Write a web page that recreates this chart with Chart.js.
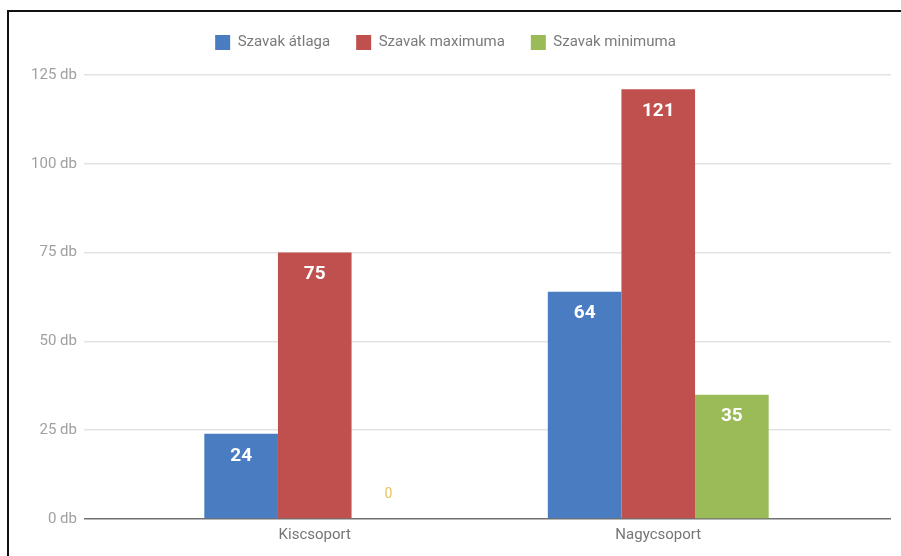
<!DOCTYPE html>
<html>
<head>
<meta charset="utf-8">
<script src="https://cdn.jsdelivr.net/npm/chart.js@4.4.1/dist/chart.umd.min.js"></script>
<style>
  body { margin: 0; background: #fff; }
  #wrap { position: relative; width: 901px; height: 556px; overflow: hidden; background: #fff; }
  #frame { position: absolute; left: 7px; top: 10px; width: 1000px; height: 1000px; border-top: 2px solid #111; border-left: 2px solid #111; }
  canvas { position: absolute; left: 0; top: 0; }
</style>
</head>
<body>
<div id="wrap">
  <div id="frame"></div>
  <canvas id="chart" width="901" height="556"></canvas>
</div>
<script>
const groups = ['Kiscsoport', 'Nagycsoport'];
const seriesNames = ['Szavak átlaga', 'Szavak maximuma', 'Szavak minimuma'];
const atlag = [24, 64];
const maximum = [75, 121];
const minimum = [0, 35];
const yTicks = [0, 25, 50, 75, 100, 125];
const colors = ['#4a7cc1', '#c0504d', '#9bbb59'];

const font = 'Roboto';

// value labels: white inside the top of the bar, yellow above the axis when the value is 0
const barLabels = {
  id: 'barLabels',
  afterDatasetsDraw(chart) {
    const ctx = chart.ctx;
    ctx.save();
    ctx.textAlign = 'center';
    ctx.textBaseline = 'middle';
    chart.data.datasets.forEach((ds, i) => {
      chart.getDatasetMeta(i).data.forEach((bar, j) => {
        const v = ds.data[j];
        if (v === 0) {
          ctx.fillStyle = '#ebc35a';
          ctx.font = '14px ' + font;
          ctx.fillText(String(v), bar.x, bar.y - 25);
        } else {
          ctx.fillStyle = '#ffffff';
          ctx.font = 'bold 19px ' + font;
          ctx.fillText(String(v), bar.x, bar.y + 22);
        }
      });
    });
    ctx.restore();
  }
};

// a bit more room under the legend
const legendGap = {
  id: 'legendGap',
  beforeInit(chart) {
    const fit = chart.legend.fit;
    chart.legend.fit = function () {
      fit.bind(chart.legend)();
      this.height += 15;
    };
  }
};

const gridColor = (c) => (c.tick && c.tick.value === 0 ? '#707070' : '#e3e3e3');

new Chart(document.getElementById('chart'), {
  type: 'bar',
  data: {
    labels: groups,
    datasets: [
      { label: seriesNames[0], data: atlag, backgroundColor: colors[0] },
      { label: seriesNames[1], data: maximum, backgroundColor: colors[1] },
      { label: seriesNames[2], data: minimum, backgroundColor: colors[2] }
    ]
  },
  options: {
    responsive: false,
    animation: false,
    layout: { padding: { top: 9, right: 10, left: 0, bottom: 0 } },
    datasets: { bar: { categoryPercentage: 0.643, barPercentage: 1 } },
    plugins: {
      legend: {
        position: 'top',
        labels: {
          boxWidth: 15, boxHeight: 15, padding: 26,
          color: '#7a7a7a',
          font: { family: font, size: 15 }
        }
      },
      tooltip: { enabled: false }
    },
    scales: {
      x: {
        offset: true,
        grid: { display: false, drawTicks: false },
        border: { display: false },
        ticks: { color: '#757575', padding: 7, font: { family: font, size: 15 } },
        afterFit(s) { s.height = 37; }
      },
      y: {
        position: 'left',
        min: 0, max: 125,
        afterBuildTicks(s) { s.ticks = yTicks.map(v => ({ value: v })); },
        grid: { color: gridColor, lineWidth: 1.5, tickLength: 59, drawTicks: true },
        border: { display: false },
        ticks: {
          color: '#a0a0a0', padding: 7,
          font: { family: font, size: 15 },
          callback: (v) => v + ' db'
        },
        afterFit(s) { s.width = 143; }
      },
      yRight: {
        position: 'right',
        min: 0, max: 125,
        afterBuildTicks(s) { s.ticks = yTicks.map(v => ({ value: v })); },
        grid: { color: gridColor, lineWidth: 1.5, tickLength: 61, drawTicks: true, drawOnChartArea: false },
        border: { display: false },
        ticks: { display: false },
        afterFit(s) { s.width = 61; }
      }
    }
  },
  plugins: [barLabels, legendGap]
});
</script>
</body>
</html>
